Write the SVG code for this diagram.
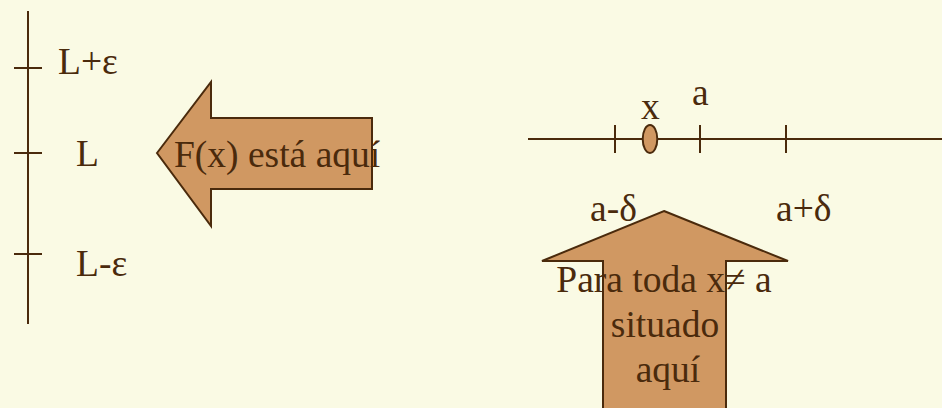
<svg xmlns="http://www.w3.org/2000/svg" width="942" height="408" viewBox="0 0 942 408">
<style>
.ln{stroke:#4A2A0C;stroke-width:2;fill:none}
.shape{fill:#D09862;stroke:#4A2A0C;stroke-width:2}
text{font-family:"Liberation Serif","Times New Roman",serif;font-size:37.5px;fill:#4A2A0C}
</style>
<rect width="942" height="408" fill="#FAFAE4"/>
<g id="left-axis">
<line class="ln" x1="28" y1="11" x2="28" y2="324"/>
<line class="ln" x1="14" y1="68" x2="42" y2="68"/>
<line class="ln" x1="14" y1="153" x2="42" y2="153"/>
<line class="ln" x1="14" y1="254" x2="42" y2="254"/>
<text x="58" y="74">L+ε</text>
<text x="76" y="166">L</text>
<text x="76" y="276">L-ε</text>
</g>
<g id="left-arrow">
<polygon class="shape" points="157,153 211,82 211,118 372,118 372,189 211,189 211,226"/>
<text x="174" y="167">F(x) está aquí</text>
</g>
<g id="number-line">
<line class="ln" x1="528" y1="139" x2="942" y2="139"/>
<line class="ln" x1="615" y1="125" x2="615" y2="153"/>
<line class="ln" x1="700" y1="125" x2="700" y2="153"/>
<line class="ln" x1="786" y1="125" x2="786" y2="153"/>
<ellipse class="shape" cx="650" cy="139" rx="7.3" ry="14"/>
<text x="641" y="119">x</text>
<text x="692" y="105">a</text>
<text x="590" y="221">a-δ</text>
<text x="776" y="221">a+δ</text>
</g>
<g id="up-arrow">
<polygon class="shape" points="664,211 788,261 726,261 726,410 603,410 603,261 542,261"/>
<text x="664" y="292" text-anchor="middle">Para toda x≠ a</text>
<text x="665" y="337" text-anchor="middle">situado</text>
<text x="668" y="382" text-anchor="middle">aquí</text>
</g>
</svg>
